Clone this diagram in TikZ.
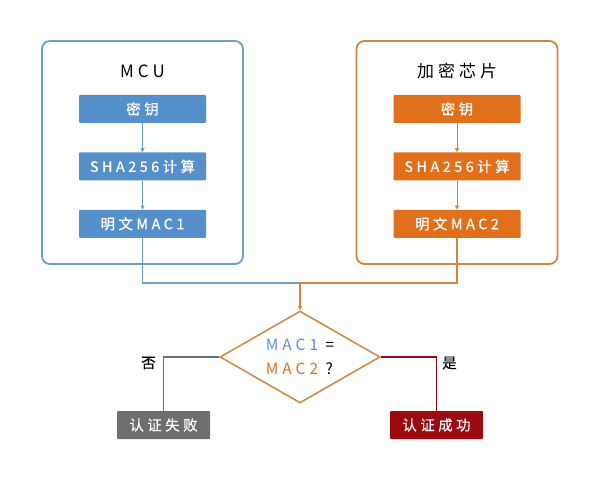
\documentclass[tikz,border=0pt]{standalone}
\usepackage{fontspec}
\setmainfont{Noto Sans CJK SC}[LetterSpace=24]
\usetikzlibrary{arrows.meta,positioning,shapes.geometric}
\definecolor{mcublue}{HTML}{5590CA}
\definecolor{mculine}{HTML}{6C9ECB}
\definecolor{chiporange}{HTML}{E0701C}
\definecolor{chipline}{HTML}{D4843F}
\definecolor{failgray}{HTML}{6E6E6E}
\definecolor{passred}{HTML}{9A0A10}

\begin{document}
\begin{tikzpicture}[
      x=1bp, y=-1bp,
      node distance=29bp,
      font=\fontsize{14.5}{17}\selectfont\addfontfeatures{FakeBold=0.4},
      group/.style={draw, line width=1.8bp, rounded corners=8bp,
        minimum width=201bp, minimum height=223bp},
      title/.style={font=\fontsize{17}{20}\selectfont},
      stage/.style={minimum width=127bp, minimum height=28bp,
        inner sep=0pt, text=white, rounded corners=1bp},
      result/.style={stage, minimum width=93bp},
      link/.style={-{Triangle[length=4bp,width=4bp]}, line width=1bp},
      merge/.style={line width=1.6bp}
    ]
    \fill[white] (0,0) rectangle (600,480);
    \useasboundingbox (0,0) rectangle (600,480);

    \node[group, draw=mculine] (mcubox) at (142.5,152.5) {};
    \node[title] (mcutitle) at (142.5,71) {MCU};
    \node[stage, fill=mcublue] (key1) at (142.5,109) {密钥};
    \node[stage, fill=mcublue, below=of key1] (sha1) {SHA256计算};
    \node[stage, fill=mcublue, below=of sha1] (mac1) {明文MAC1};

    \node[group, draw=chipline] (chipbox) at (457,152.5) {};
    \node[title] (chiptitle) at (457,71) {加密芯片};
    \node[stage, fill=chiporange] (key2) at (457,109) {密钥};
    \node[stage, fill=chiporange, below=of key2] (sha2) {SHA256计算};
    \node[stage, fill=chiporange, below=of sha2] (mac2) {明文MAC2};

    \node[diamond, draw=chipline, line width=1.5bp, aspect=1.74,
      minimum width=160bp, minimum height=92bp, inner sep=0pt,
      font=\fontsize{15.5}{24}\selectfont\addfontfeatures{LetterSpace=26},
      align=left] (check) at (300,357)
      {\textcolor{mcublue}{MAC1} =\\\textcolor{chiporange}{MAC2} ?};

    \node[result, fill=failgray] (fail) at (163.5,425) {认证失败};
    \node[result, fill=passred] (pass) at (436.5,425) {认证成功};

    \draw[link, mculine] (key1) -- (sha1);
    \draw[link, mculine] (sha1) -- (mac1);
    \draw[link, chipline] (key2) -- (sha2);
    \draw[link, chipline] (sha2) -- (mac2);

    \coordinate (join) at (300,283);
    \draw[merge, mculine] (mac1.south) |- (join);
    \draw[merge, chipline] (mac2.south) |- (join);
    \draw[link, merge, chipline] (join) -- (check.north);

    \draw[merge, failgray] (check.west) -| node[pos=0.5, xshift=-15bp,
      yshift=-6bp, text=black] {否} (fail.north);
    \draw[merge, passred] (check.east) -| node[pos=0.5, xshift=13bp,
      yshift=-6bp, text=black] {是} (pass.north);
  \end{tikzpicture}
\end{document}
